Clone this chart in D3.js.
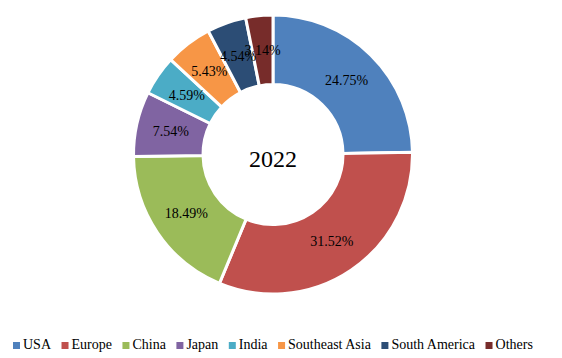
<!DOCTYPE html>
<html>
<head>
<meta charset="utf-8">
<script src="https://cdn.jsdelivr.net/npm/d3@7"></script>
<style>
  html, body { margin: 0; padding: 0; background: #fff; }
  svg { display: block; font-family: 'Liberation Serif', 'Times New Roman', Times, 'DejaVu Serif', serif; }
</style>
</head>
<body>
<svg id="chart" width="562" height="358"></svg>
<script>
const categories = ["USA", "Europe", "China", "Japan", "India", "Southeast Asia", "South America", "Others"];
const values = [24.75, 31.52, 18.49, 7.54, 4.59, 5.43, 4.54, 3.14];
const colors = ["#4F81BD", "#C0504D", "#9BBB59", "#8064A2", "#4BACC6", "#F79646", "#2C4D75", "#772C2A"];
const centerLabel = "2022";

const FONT = "'Liberation Serif', 'Times New Roman', Times, 'DejaVu Serif', serif";
const svg = d3.select("#chart").attr("font-family", FONT);
const cx = 273, cy = 154.5;
const outerR = 139.5, innerR = 70;

const color = d3.scaleOrdinal().domain(categories).range(colors);
const pie = d3.pie().sort(null).value(d => d.value);
const data = categories.map((c, i) => ({ name: c, value: values[i] }));
const arcs = pie(data);

const arc = d3.arc().innerRadius(innerR).outerRadius(outerR);
const labelArc = d3.arc().innerRadius((innerR + outerR) / 2).outerRadius((innerR + outerR) / 2);

const g = svg.append("g").attr("transform", `translate(${cx},${cy})`);

g.selectAll("path.slice")
  .data(arcs)
  .join("path")
  .attr("class", "slice")
  .attr("d", arc)
  .attr("fill", d => color(d.data.name))
  .attr("stroke", "#fff")
  .attr("stroke-width", 3)
  .attr("stroke-linejoin", "round");

g.selectAll("text.pct")
  .data(arcs)
  .join("text")
  .attr("class", "pct")
  .attr("transform", d => `translate(${labelArc.centroid(d)})`)
  .attr("text-anchor", "middle")
  .attr("dy", "0.35em")
  .attr("font-family", FONT)
  .attr("font-size", 14)
  .attr("fill", "#000")
  .text(d => d.data.value.toFixed(2) + "%");

g.append("text")
  .attr("x", 0)
  .attr("y", 12.5)
  .attr("text-anchor", "middle")
  .attr("font-family", FONT)
  .attr("font-size", 24)
  .attr("fill", "#000")
  .text(centerLabel);

// Legend
const legend = svg.append("g").attr("transform", "translate(13,349)");
let x = 0;
categories.forEach((c, i) => {
  const item = legend.append("g").attr("transform", `translate(${x},0)`);
  item.append("rect")
    .attr("x", 0).attr("y", -7)
    .attr("width", 7).attr("height", 7)
    .attr("fill", color(c));
  const t = item.append("text")
    .attr("x", 10).attr("y", 0)
    .attr("font-family", FONT)
    .attr("font-size", 14)
    .attr("fill", "#000")
    .text(c);
  const w = t.node().getComputedTextLength();
  x += 10 + w + 10.5;
});
</script>
</body>
</html>
